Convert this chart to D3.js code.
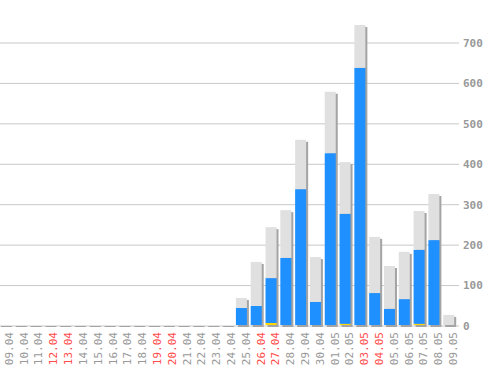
<!DOCTYPE html>
<html>
<head>
<meta charset="utf-8">
<script src="https://cdn.jsdelivr.net/npm/d3@7"></script>
<style>
  body { margin: 0; background: #fff; }
  svg { display: block; }
  text { font-family: "DejaVu Sans Mono", monospace; font-size: 11px; fill: #999; }
</style>
</head>
<body>
<div id="chart"></div>
<script>
// day labels (09.04 - 09.05)
var days = ["09.04","10.04","11.04","12.04","13.04","14.04","15.04","16.04","17.04","18.04",
            "19.04","20.04","21.04","22.04","23.04","24.04","25.04","26.04","27.04","28.04",
            "29.04","30.04","01.05","02.05","03.05","04.05","05.05","06.05","07.05","08.05","09.05"];
var redDays = ["12.04","13.04","19.04","20.04","26.04","27.04","03.05","04.05"];

// stacked series, bottom to top
var yellowVals = [0,0,0,0,0,0,0,0,0,0, 0,0,0,0,0,0,0,0,5,0, 0,0,0,3,0,0,0,0,3,0,0];
var blueVals   = [0,0,0,0,0,0,0,0,0,0, 0,0,0,0,0,0,42,47,111,166, 336,57,425,272,636,79,40,64,183,210,0];
var grayVals   = [0,0,0,0,0,0,0,0,0,0, 0,0,0,0,0,0,25,109,126,118, 122,111,152,128,106,139,106,117,96,114,25];

var yTicks = [0,100,200,300,400,500,600,700];

var width = 498, height = 370;

var svg = d3.select('#chart')
    .append('svg')
    .attr('width', width)
    .attr('height', height);

var x = d3.scaleBand()
    .domain(days)
    .range([-1, 458])
    .padding(0);

var y = d3.scaleLinear()
    .domain([0, 700])
    .range([325, 42]);

// grid + labels on the right
var yAxis = d3.axisRight(y)
    .tickValues(yTicks)
    .tickSize(-459)
    .tickPadding(4);

var gy = svg.append('g')
    .attr('transform', 'translate(459, 0.5)')
    .call(yAxis);
gy.select('.domain').remove();
gy.selectAll('.tick line').attr('stroke', '#c8c8c8');
gy.selectAll('.tick text')
    .attr('fill', '#999')
    .style('font-weight', 'bold')
    .attr('dy', '0.35em');

var data = days.map(function(d, i) {
    return { day: d, yellow: yellowVals[i], blue: blueVals[i], gray: grayVals[i] };
});

var barW = 11;

// shadows (offset 2px right / down)
svg.selectAll('rect.shadow')
    .data(data)
    .enter().append('rect')
    .attr('class', 'shadow')
    .attr('fill', '#a4a4a4')
    .attr('x', function(d) { return x(d.day) + 2; })
    .attr('y', function(d) {
        var t = y(d.yellow + d.blue + d.gray);
        return Math.min(t + 2, y(0) + 1);
    })
    .attr('width', barW)
    .attr('height', function(d) {
        var t = y(d.yellow + d.blue + d.gray);
        return y(0) + 2 - Math.min(t + 2, y(0) + 1);
    });

var stack = d3.stack().keys(['yellow', 'blue', 'gray'])(data);
var colors = { yellow: '#ffd700', blue: '#1e90ff', gray: '#e0e0e0' };

svg.selectAll('g.layer')
    .data(stack)
    .enter().append('g')
    .attr('class', 'layer')
    .attr('fill', function(s) { return colors[s.key]; })
    .selectAll('rect')
    .data(function(s) { return s; })
    .enter().append('rect')
    .attr('x', function(d) { return x(d.data.day); })
    .attr('y', function(d) { return y(d[1]); })
    .attr('width', barW)
    .attr('height', function(d) { return y(d[0]) - y(d[1]); });

// rotated day labels
svg.selectAll('text.day')
    .data(days)
    .enter().append('text')
    .attr('class', 'day')
    .attr('transform', function(d) { return 'translate(' + (x(d) + 10) + ',332) rotate(-90)'; })
    .attr('text-anchor', 'end')
    .attr('dy', '0.35em')
    .style('fill', function(d) { return redDays.indexOf(d) >= 0 ? '#ff4d4d' : '#999'; })
    .text(function(d) { return d; });
</script>
</body>
</html>
